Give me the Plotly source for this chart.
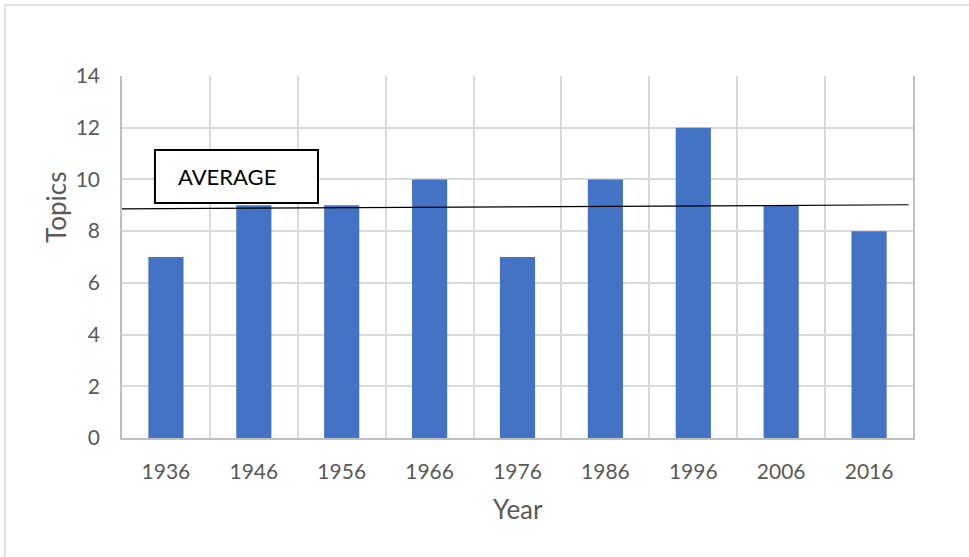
import plotly.graph_objects as go

# Number of topics per sampled year
years = ["1936", "1946", "1956", "1966", "1976", "1986", "1996", "2006", "2016"]
topics = [7, 9, 9, 10, 7, 10, 12, 9, 8]
y_ticks = [0, 2, 4, 6, 8, 10, 12, 14]

avg = sum(topics) / len(topics)

W, H = 969, 557
L, R, T, B = 122, 56, 76, 119
FONT = "Lato"
GREY = "#595959"

fig = go.Figure()
fig.add_trace(go.Bar(
    x=years, y=topics,
    marker=dict(color="#4472C4", line=dict(width=0)),
    hoverinfo="x+y",
))

# hand-drawn average line (slightly tilted) and its label box
fig.add_shape(type="line", xref="x", yref="y",
              x0=-0.5, y0=avg - 0.14, x1=8.45, y1=avg + 0.02,
              line=dict(color="black", width=1.2))
fig.add_shape(type="rect", xref="x", yref="y",
              x0=-0.125, x1=1.73, y0=9.09, y1=11.14,
              line=dict(color="black", width=2), fillcolor="white")
fig.add_annotation(xref="x", yref="y", x=0.12, y=10.12, xanchor="left", yanchor="middle",
                   text="AVERAGE", showarrow=False,
                   font=dict(family=FONT, size=22, color="black"))

# axis titles
fig.add_annotation(xref="paper", yref="paper", x=(56 - L) / (W - L - R), y=(438 - 208) / (H - T - B),
                   text="Topics", textangle=-90, showarrow=False,
                   xanchor="center", yanchor="middle",
                   font=dict(family=FONT, size=26, color=GREY))
fig.add_annotation(xref="paper", yref="paper", x=0.5, y=(438 - 509) / (H - T - B),
                   text="Year", showarrow=False, xanchor="center", yanchor="middle",
                   font=dict(family=FONT, size=26, color=GREY))

# chart-area border
fig.add_shape(type="rect", xref="paper", yref="paper",
              x0=(5 - L) / (W - L - R), x1=(990 - L) / (W - L - R),
              y0=(438 - 580) / (H - T - B), y1=(438 - 5) / (H - T - B),
              line=dict(color="#d9d9d9", width=1.5), layer="below")

fig.update_layout(
    width=W, height=H,
    margin=dict(l=L, r=R, t=T, b=B),
    paper_bgcolor="white", plot_bgcolor="white",
    bargap=0.6, showlegend=False,
    font=dict(family=FONT, size=21, color=GREY),
    xaxis=dict(
        type="category", tickson="boundaries",
        showgrid=True, gridcolor="#d9d9d9", gridwidth=1.5,
        showline=True, linecolor="#bfbfbf", linewidth=1.5,
        ticks="", ticklabelstandoff=14,
        tickfont=dict(family=FONT, size=21, color=GREY),
        range=[-0.5, 8.5],
    ),
    yaxis=dict(
        range=[0, 14], tickvals=y_ticks,
        showgrid=True, gridcolor="#d9d9d9", gridwidth=1.5,
        showline=True, mirror=True, linecolor="#bfbfbf", linewidth=1.5,
        zeroline=False, ticks="", ticklabelstandoff=16,
        tickfont=dict(family=FONT, size=21, color=GREY),
    ),
)

fig.write_html("out.html")
